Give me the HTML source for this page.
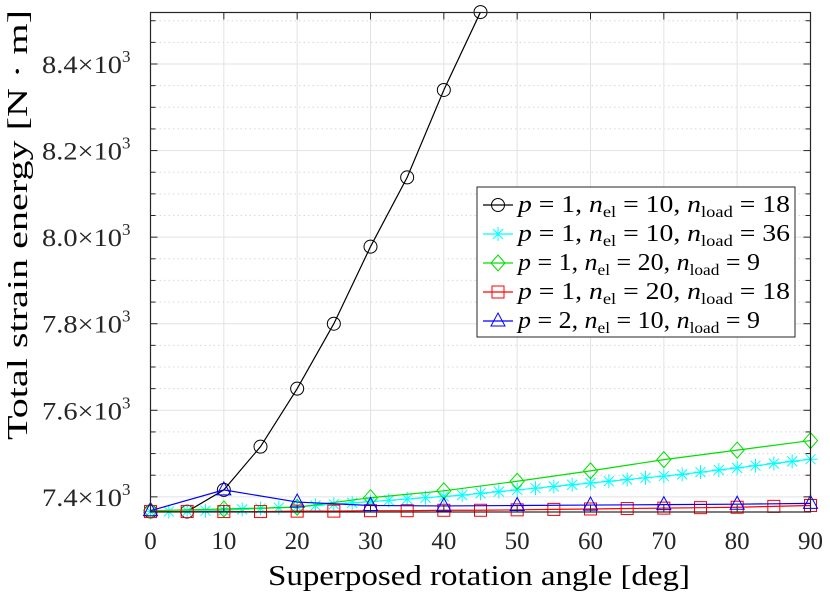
<!DOCTYPE html>
<html><head><meta charset="utf-8"><style>
body{margin:0;background:#fff}
svg{display:block;font-family:"Liberation Serif",serif}
</style></head><body>
<svg id="chart" width="830" height="598" viewBox="0 0 830 598">
<g id="grid"></g><g id="series"></g><g id="axes"></g><g id="legend"></g>
<text x="268" y="585" font-size="28" textLength="422" lengthAdjust="spacingAndGlyphs">Superposed rotation angle [deg]</text>
<text transform="translate(27,440) rotate(-90)" font-size="28" textLength="430" lengthAdjust="spacingAndGlyphs">Total strain energy [N · m]</text>
</svg>
<script>
const xTicks=[0,10,20,30,40,50,60,70,80,90];
const yTicks=[7400,7600,7800,8000,8200,8400];
const yTickLabels=["7.4","7.6","7.8","8.0","8.2","8.4"];
const xBlack=[0,5,10,15,20,25,30,35,40,45];
const yBlack=[7366,7366,7416,7516,7650,7800,7978,8138,8340,8520];
const xCyan=[0,2.5,5,7.5,10,12.5,15,17.5,20,22.5,25,27.5,30,32.5,35,37.5,40,42.5,45,47.5,50,52.5,55,57.5,60,62.5,65,67.5,70,72.5,75,77.5,80,82.5,85,87.5,90];
const yCyan=[7366,7366,7367,7368,7369,7371,7373,7375,7377,7380,7383,7386,7389,7392,7395,7398,7401,7404,7408,7412,7416,7420,7424,7428,7432,7436,7440,7444,7448,7452,7457,7462,7467,7472,7477,7482,7487];
const xGreen=[0,10,20,30,40,50,60,70,80,90];
const yGreen=[7368,7372,7376,7398,7414,7436,7460,7486,7508,7530];
const xRed=[0,5,10,15,20,25,30,35,40,45,50,55,60,65,70,75,80,85,90];
const yRed=[7366,7366,7366,7366,7367,7367,7368,7368,7369,7369,7370,7371,7372,7373,7374,7375,7376,7378,7380];
const xBlue=[0,10,20,30,40,50,60,70,80,90];
const yBlue=[7368,7416,7388,7380,7379,7380,7381,7382,7383,7385];

const X0=150.5,X1=810.5,Y0=512,Y1=12.5,XMIN=0,XMAX=90,YMIN=7365,YMAX=8519;
const sx=v=>X0+(v-XMIN)/(XMAX-XMIN)*(X1-X0);
const sy=v=>Y0-(v-YMIN)/(YMAX-YMIN)*(Y0-Y1);
const NS="http://www.w3.org/2000/svg";
function mk(tag,attrs,parent){const e=document.createElementNS(NS,tag);for(const k in attrs)e.setAttribute(k,attrs[k]);parent.appendChild(e);return e;}
const grid=document.getElementById('grid'),axes=document.getElementById('axes'),ser=document.getElementById('series'),leg=document.getElementById('legend');
for(let v=7400;v<=8500;v+=50){if(v%200===0)continue;const y=sy(v);
 const l=mk('line',{x1:X0,x2:X1,y1:y,y2:y,stroke:'#d8d8d8','stroke-dasharray':'1.5,3','stroke-width':1},grid);
 
 mk('line',{x1:X0,x2:X0+5,y1:y,y2:y,stroke:'#262626'},axes);mk('line',{x1:X1,x2:X1-5,y1:y,y2:y,stroke:'#262626'},axes);}
xTicks.forEach(v=>{const x=sx(v);
 const l=mk('line',{x1:x,x2:x,y1:Y0,y2:Y1,stroke:'#e2e2e2'},grid);
 
 mk('line',{x1:x,x2:x,y1:Y0,y2:Y0-7,stroke:'#262626'},axes);mk('line',{x1:x,x2:x,y1:Y1,y2:Y1+7,stroke:'#262626'},axes);
 const t=mk('text',{x:x,y:549,'font-size':25,'text-anchor':'middle',fill:'#262626'},axes);t.textContent=v;
 });
yTicks.forEach((v,i)=>{const y=sy(v);
 const l=mk('line',{x1:X0,x2:X1,y1:y,y2:y,stroke:'#e2e2e2'},grid);
 
 mk('line',{x1:X0,x2:X0+7,y1:y,y2:y,stroke:'#262626'},axes);mk('line',{x1:X1,x2:X1-7,y1:y,y2:y,stroke:'#262626'},axes);
 const t=mk('text',{x:42,y:y+9,'font-size':25,fill:'#262626'},axes);
 t.innerHTML='<tspan textLength="80" lengthAdjust="spacingAndGlyphs">'+yTickLabels[i]+'×10</tspan><tspan dy="-11" font-size="17">3</tspan>';
 });
const fr=mk('rect',{x:X0,y:Y1,width:X1-X0,height:Y0-Y1,fill:'none',stroke:'#262626','stroke-width':1.2},axes);


function marker(type,x,y,c,g){
 if(type==='o')mk('circle',{cx:x,cy:y,r:6.5,fill:'none',stroke:c},g);
 else if(type==='s')mk('rect',{x:x-6,y:y-6,width:12,height:12,fill:'none',stroke:c},g);
 else if(type==='d')mk('path',{d:`M${x} ${y-8}L${x+7} ${y}L${x} ${y+8}L${x-7} ${y}Z`,fill:'none',stroke:c},g);
 else if(type==='^')mk('path',{d:`M${x} ${y-8}L${x+7} ${y+5}L${x-7} ${y+5}Z`,fill:'none',stroke:c},g);
 else if(type==='*'){mk('path',{d:`M${x-7} ${y}H${x+7}M${x} ${y-7}V${y+7}M${x-5} ${y-5}L${x+5} ${y+5}M${x-5} ${y+5}L${x+5} ${y-5}`,stroke:c},g);}
}
const S=[
 {xs:xBlack,ys:yBlack,c:'#000',m:'o',name:'series-p1-nel10-nload18'},
 {xs:xCyan,ys:yCyan,c:'#00ffff',m:'*',name:'series-p1-nel10-nload36'},
 {xs:xGreen,ys:yGreen,c:'#00e000',m:'d',name:'series-p1-nel20-nload9'},
 {xs:xRed,ys:yRed,c:'#ff0000',m:'s',name:'series-p1-nel20-nload18'},
 {xs:xBlue,ys:yBlue,c:'#0000ff',m:'^',name:'series-p2-nel10-nload9'}];
S.forEach(s=>{const g=mk('g',{},ser);
 
 mk('polyline',{points:s.xs.map((v,i)=>sx(v)+','+sy(s.ys[i])).join(' '),fill:'none',stroke:s.c,'stroke-width':1.2},g);
 s.xs.forEach((v,i)=>marker(s.m,sx(v),sy(s.ys[i]),s.c,g));});
const lb=mk('rect',{x:477,y:187,width:318,height:150,fill:'#fff',stroke:'#262626'},leg);

const labels=[['1','10','18'],['1','10','36'],['1','20','9'],['1','20','18'],['2','10','9']];
labels.forEach((L,i)=>{const y=205+i*29;const g=mk('g',{},leg);
 
 mk('line',{x1:483,x2:513,y1:y,y2:y,stroke:S[i].c,'stroke-width':1.2},g);marker(S[i].m,498,y,S[i].c,g);
 const w=L[2].length===2?272:242;
 const t=mk('text',{x:518,y:y+7,'font-size':24,fill:'#000',textLength:w,lengthAdjust:'spacingAndGlyphs'},g);
 t.innerHTML=`<tspan font-style="italic">p</tspan> = ${L[0]}, <tspan font-style="italic">n</tspan><tspan font-size="16" dy="5">el</tspan><tspan dy="-5"> = ${L[1]}, </tspan><tspan font-style="italic">n</tspan><tspan font-size="16" dy="5">load</tspan><tspan dy="-5"> = ${L[2]}</tspan>`;});
</script>
</body></html>
